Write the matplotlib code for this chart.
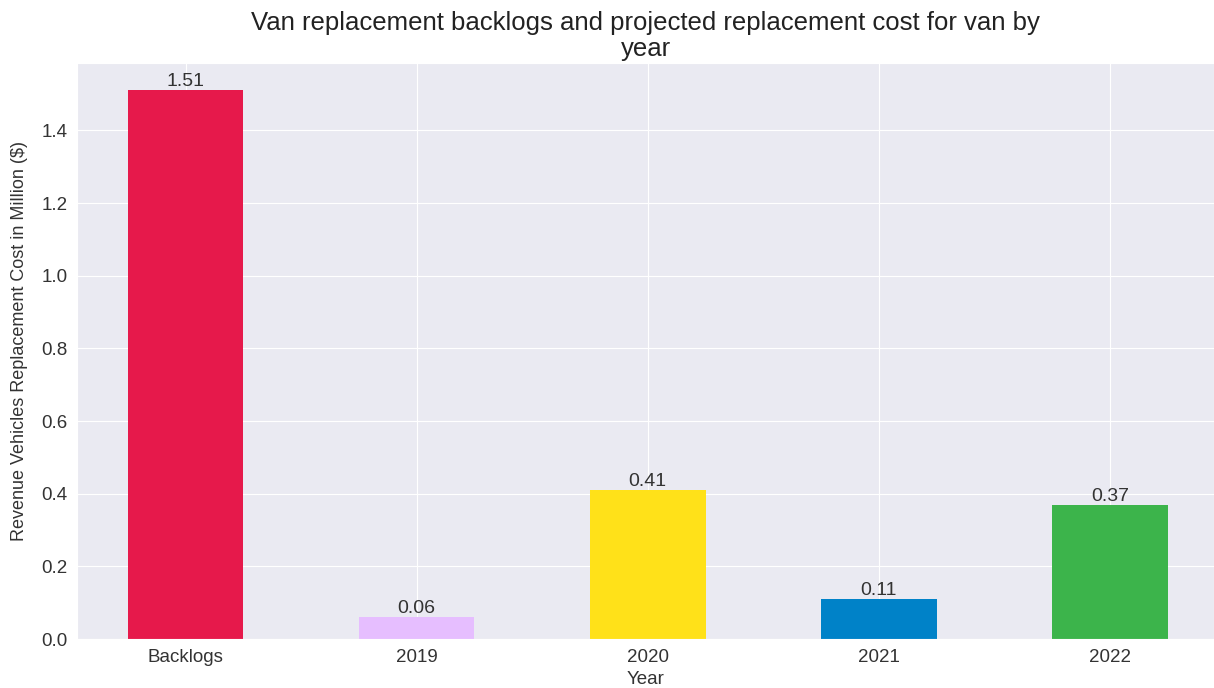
import matplotlib
matplotlib.use("Agg")
import matplotlib.pyplot as plt
import seaborn as sns
from matplotlib import font_manager

sns.set_style("darkgrid")
plt.rcParams['font.family'] = ['Liberation Sans', 'DejaVu Sans']

names = {f.name for f in font_manager.fontManager.ttflist}
narrow = 'Liberation Sans Narrow' if 'Liberation Sans Narrow' in names else 'Liberation Sans'

categories = ["Backlogs", "2019", "2020", "2021", "2022"]
costs = [1.51, 0.06, 0.41, 0.11, 0.37]
labels = ["1.51", "0.06", "0.41", "0.11", "0.37"]
colors = ["#e6194b", "#e6beff", "#ffe119", "#0082c8", "#3cb44b"]

fig = plt.figure(figsize=(12.14, 6.88), dpi=100)
ax = fig.add_axes([77 / 1214, 1 - 639 / 688, (1214 - 77) / 1214, (639 - 63) / 688])

x = range(len(categories))
bars = ax.bar(x, costs, width=0.5, color=colors, linewidth=0)
for b, lab in zip(bars, labels):
    ax.text(b.get_x() + b.get_width() / 2, b.get_height(), lab,
            ha="center", va="bottom", fontsize=14, color="#333333")

ax.set_xticks(list(x))
ax.set_xticklabels(categories)
ax.set_xlim(-0.47, 4.45)
ax.set_ylim(0, 1.5855)
ax.tick_params(labelsize=13.5, colors="#333333")
ax.set_xlabel("Year", fontsize=13.5, color="#333333", labelpad=4)
ax.set_ylabel("Revenue Vehicles Replacement Cost in Million ($)", fontsize=13,
              family=narrow, color="#333333")
ax.yaxis.set_label_coords(-0.043, 0.517)
ax.set_title("Van replacement backlogs and projected replacement cost for van by\nyear",
             fontsize=18.5, family=narrow, color="#222222", pad=5, linespacing=1.12)

fig.savefig("out.png", dpi=100)
